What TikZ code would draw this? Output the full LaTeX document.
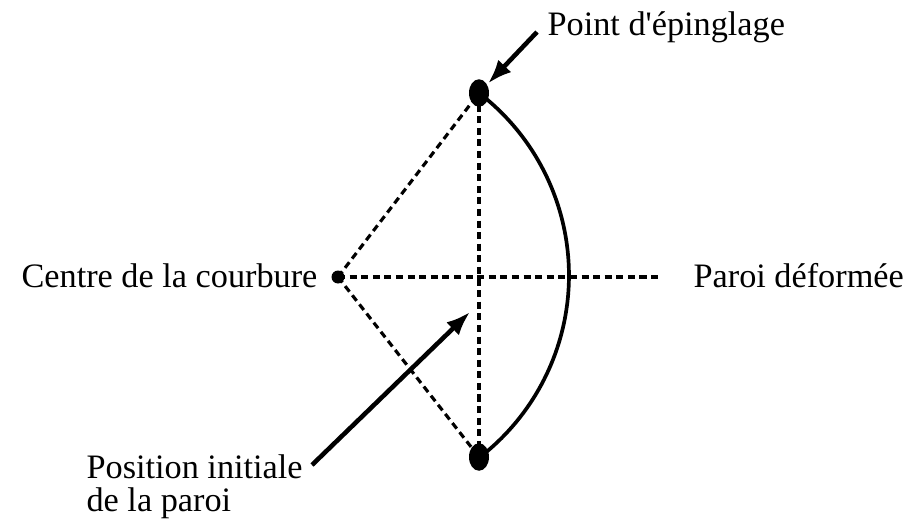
\documentclass[tikz,border=0pt]{standalone}
\usepackage{fontspec}
\setmainfont{Liberation Serif}[Ligatures=TeXOff]
\usetikzlibrary{arrows.meta, shapes.geometric, backgrounds}
\tikzset{
  every picture/.style={x=0.02cm, y=0.02cm, line width=1.8pt},
  lbl/.style={font=\fontsize{19.5}{18.7}\selectfont, inner sep=0pt, align=left},
  pin/.style={ellipse, fill=black, inner sep=0pt, minimum width=0.4cm, minimum height=0.55cm},
  dot/.style={circle, fill=black, inner sep=0pt, minimum size=0.26cm},
  guide/.style={dash pattern=on 4pt off 2.6pt, line width=1.8pt},
  wall/.style={line width=2.1pt},
  arrow/.style={-{Latex[length=4.8mm, width=3.6mm]}, line width=2.6pt},
}

\begin{document}
\begin{tikzpicture}
  \useasboundingbox (0,0) rectangle (904,522);
  % centre, pinning points
  \node[dot] (ctr) at (338,245) {};
  \node[pin] (ptop) at (479,429) {};
  \node[pin] (pbot) at (479,65) {};
  \coordinate (far) at (662,245);
  \coordinate (ttail) at (537,490);
  \coordinate (itail) at (312,57);
  \coordinate (itip) at (470,210);
  % labels
  \node[lbl, anchor=base west] (tpin) at (546,487) {Point d'épinglage};
  \node[lbl, anchor=base east] (tctr) at (319,235) {Centre de la courbure};
  \node[lbl, anchor=base west] (twall) at (692,235) {Paroi déformée};
  \node[lbl, anchor=base west] (tinit) at (85,11) {Position initiale\\de la paroi};
  \begin{scope}[on background layer]
    \draw[guide] (ctr.center) -- (ptop.center);
    \draw[guide] (ctr.center) -- (pbot.center);
    \draw[guide] (ptop.center) -- (pbot.center);
    \draw[guide] (ctr.center) -- (far);
    \draw[wall] (ptop.center) arc[start angle=52.5, end angle=-52, radius=4.6cm];
  \end{scope}
  \draw[arrow] (ttail) -- (ptop);
  \draw[arrow] (itail) -- (itip);
\end{tikzpicture}
\end{document}
